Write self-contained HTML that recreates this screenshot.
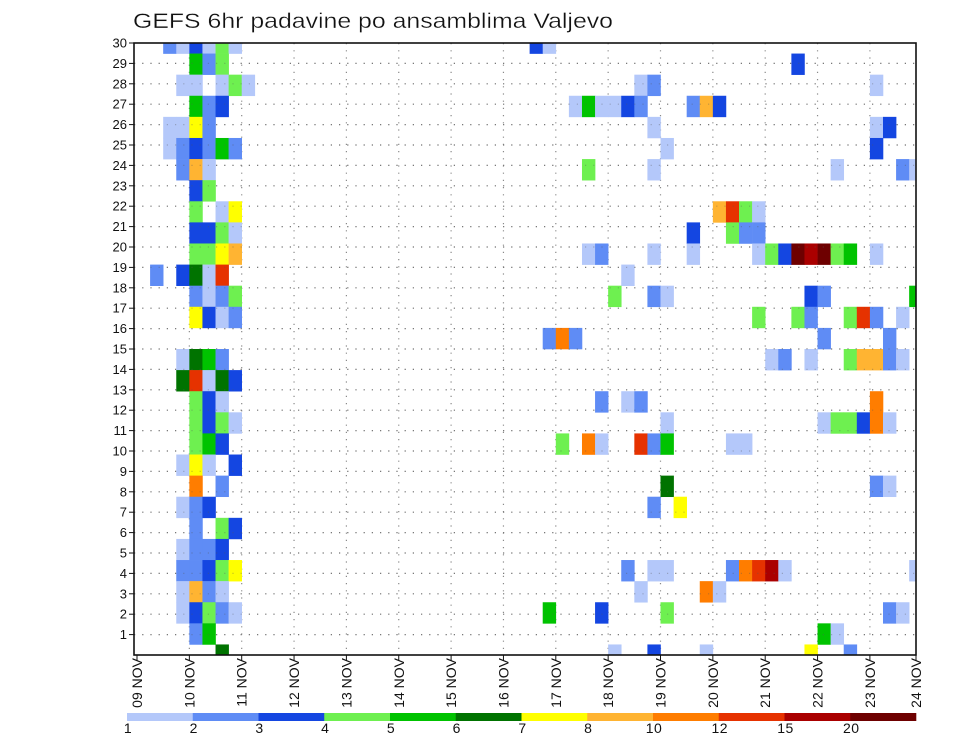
<!DOCTYPE html>
<html><head><meta charset="utf-8"><title>GEFS 6hr padavine po ansamblima Valjevo</title>
<style>
html,body{margin:0;padding:0;background:#fff;}
svg{display:block;font-family:"Liberation Sans",sans-serif;}
</style></head>
<body>
<svg id="chart" width="960" height="742" viewBox="0 0 960 742" xmlns="http://www.w3.org/2000/svg">
<text x="133" y="28" font-size="21" textLength="480" lengthAdjust="spacingAndGlyphs" fill="#111" stroke="#fff" stroke-width="0.3">GEFS 6hr padavine po ansamblima Valjevo</text>
<defs><clipPath id="plotclip"><rect x="134" y="43" width="782" height="612"/></clipPath></defs>
<g id="grid"></g>
<g id="cells" clip-path="url(#plotclip)"></g>
<rect x="134" y="43" width="782" height="612" fill="none" stroke="#111" stroke-width="1.6"/>
<g id="yaxis"></g>
<g id="xaxis"></g>
<g id="legend"></g>
</svg>
<script>
// ---- data ----
const dayLabels = ["09 NOV","10 NOV","11 NOV","12 NOV","13 NOV","14 NOV","15 NOV","16 NOV","17 NOV","18 NOV","19 NOV","20 NOV","21 NOV","22 NOV","23 NOV","24 NOV"];
const yTicks = [1,2,3,4,5,6,7,8,9,10,11,12,13,14,15,16,17,18,19,20,21,22,23,24,25,26,27,28,29,30];
const levels = [1,2,3,4,5,6,7,8,10,12,15,20];
const levelLabels = ["1","2","3","4","5","6","7","8","10","12","15","20"];
const levelColors = ["#b4c8fa","#5f8cf5","#1446e1","#6ef050","#00c300","#007300","#ffff00","#ffb432","#ff7d00","#e63200","#aa0000","#6e0000"];
// cells: 6-hour step index (from 09 NOV 00z), ensemble member, precip (mm)
const cellStep = [
2,3,4,5,6,7,30,31,
4,5,6,50,
3,4,6,7,8,38,39,56,
4,5,6,33,34,35,36,37,38,42,43,44,
2,3,4,5,39,56,57,
2,3,4,5,6,7,40,56,
3,4,5,34,39,53,58,59,
4,5,
4,6,7,44,45,46,47,
4,5,6,7,42,45,46,47,
4,5,6,7,34,35,39,42,47,48,49,50,51,52,53,54,56,
1,3,4,5,6,37,
4,5,6,7,36,39,40,51,52,59,
4,5,6,7,47,50,51,54,55,56,58,
31,32,33,52,57,
3,4,5,6,48,49,51,54,55,56,57,58,
3,4,5,6,7,
4,5,6,35,37,38,56,
4,5,6,7,40,52,53,54,55,56,57,
4,5,6,32,34,35,38,39,40,45,46,
3,4,5,7,
4,6,40,56,57,
3,4,5,39,41,
4,6,7,
3,4,5,6,
3,4,5,6,7,37,39,40,45,46,47,48,49,59,
3,4,5,6,38,43,44,
3,4,5,6,7,31,35,40,57,58,
4,5,52,53,
6,36,39,43,51,54];
const cellMember = [
29,29,29,29,29,29,29,29,
28,28,28,28,
27,27,27,27,27,27,27,27,
26,26,26,26,26,26,26,26,26,26,26,26,
25,25,25,25,25,25,25,
24,24,24,24,24,24,24,24,
23,23,23,23,23,23,23,23,
22,22,
21,21,21,21,21,21,21,
20,20,20,20,20,20,20,20,
19,19,19,19,19,19,19,19,19,19,19,19,19,19,19,19,19,
18,18,18,18,18,18,
17,17,17,17,17,17,17,17,17,17,
16,16,16,16,16,16,16,16,16,16,16,
15,15,15,15,15,
14,14,14,14,14,14,14,14,14,14,14,14,
13,13,13,13,13,
12,12,12,12,12,12,12,
11,11,11,11,11,11,11,11,11,11,11,
10,10,10,10,10,10,10,10,10,10,10,
9,9,9,9,
8,8,8,8,8,
7,7,7,7,7,
6,6,6,
5,5,5,5,
4,4,4,4,4,4,4,4,4,4,4,4,4,4,
3,3,3,3,3,3,3,
2,2,2,2,2,2,2,2,2,2,
1,1,1,1,
0,0,0,0,0,0];
const cellValue = [
2.5,1.5,3.5,1.5,4.5,1.5,3.5,1.5,
5.5,2.5,4.5,3.5,
1.5,1.5,1.5,4.5,1.5,1.5,2.5,1.5,
5.5,2.5,3.5,1.5,5.5,1.5,1.5,3.5,2.5,2.5,9,3.5,
1.5,1.5,7.5,2.5,1.5,1.5,3.5,
1.5,2.5,3.5,2.5,5.5,2.5,1.5,3.5,
2.5,9,1.5,4.5,1.5,1.5,2.5,1.5,
3.5,4.5,
4.5,1.5,7.5,9,13.5,4.5,1.5,
3.5,3.5,4.5,1.5,3.5,4.5,2.5,2.5,
4.5,4.5,7.5,9,1.5,2.5,1.5,1.5,1.5,4.5,3.5,25,17.5,25,4.5,5.5,1.5,
2.5,3.5,6.5,1.5,13.5,1.5,
2.5,1.5,2.5,4.5,4.5,2.5,1.5,3.5,2.5,5.5,
7.5,3.5,1.5,2.5,4.5,4.5,2.5,4.5,13.5,2.5,1.5,
2.5,11,2.5,2.5,2.5,
1.5,6.5,5.5,2.5,1.5,2.5,1.5,4.5,9,9,2.5,1.5,
6.5,13.5,1.5,6.5,3.5,
4.5,3.5,1.5,2.5,1.5,2.5,11,
4.5,3.5,4.5,1.5,1.5,1.5,4.5,4.5,3.5,11,1.5,
4.5,5.5,3.5,4.5,11,1.5,13.5,2.5,5.5,1.5,1.5,
1.5,7.5,1.5,3.5,
11,2.5,6.5,2.5,1.5,
1.5,2.5,3.5,2.5,7.5,
2.5,4.5,3.5,
1.5,2.5,2.5,3.5,
2.5,2.5,3.5,4.5,7.5,2.5,1.5,1.5,2.5,11,13.5,17.5,1.5,1.5,
1.5,9,2.5,1.5,1.5,11,1.5,
1.5,3.5,4.5,2.5,1.5,5.5,3.5,4.5,2.5,1.5,
2.5,5.5,5.5,1.5,
6.5,1.5,3.5,1.5,7.5,2.5];

// ---- scales ----
const NS = "http://www.w3.org/2000/svg";
const X0 = 137, DAY = 52.35, STEP = DAY/4;
const PL = 134, PR = 916, PT = 43, PB = 655;
function xDay(d){ return Math.min(X0 + d*DAY, PR); }
function xStep(k){ return X0 + k*STEP; }
function yTick(v){ return PB - v*(PB-PT)/30; }
const MEMBER_H = (PB-PT)/29;
function yMember(m){ return PB - m*MEMBER_H; }
function colorFor(v){ let c = levelColors[0]; for(let i=0;i<levels.length;i++){ if(v>=levels[i]) c = levelColors[i]; } return c; }
function mk(tag, attrs, parent){ const e=document.createElementNS(NS,tag); for(const a in attrs) e.setAttribute(a, attrs[a]); parent.appendChild(e); return e; }

// grid
const grid = document.getElementById('grid');
for (const v of yTicks){ if(v===30) continue;
  const l = mk('line',{x1:PL,x2:PR,y1:yTick(v),y2:yTick(v),stroke:'#8a8a8a','stroke-width':1.2,'stroke-dasharray':'1.2 7'},grid);
  
  
}
for (let d=1; d<dayLabels.length-1; d++){
  const l = mk('line',{x1:xDay(d),x2:xDay(d),y1:PT,y2:PB,stroke:'#8a8a8a','stroke-width':1.2,'stroke-dasharray':'1.2 6'},grid);
  
  
}

// cells
const cells = document.getElementById('cells');
for (let i=0;i<cellStep.length;i++){
  const yc = yMember(cellMember[i]);
  const r = mk('rect',{x:xStep(cellStep[i]).toFixed(2), y:(yc-MEMBER_H/2).toFixed(2), width:(STEP+0.3).toFixed(2), height:(MEMBER_H+0.3).toFixed(2), fill:colorFor(cellValue[i])},cells);
  
  
}
for (const v of yTicks){ if(v===30) continue;
  const l = mk('line',{x1:PL,x2:PR,y1:yTick(v),y2:yTick(v),stroke:'#555','stroke-opacity':0.35,'stroke-width':1.2,'stroke-dasharray':'1.2 7'},cells);
  
  
}

// y axis
const ya = document.getElementById('yaxis');
for (const v of yTicks){
  const t = mk('line',{x1:PL-5,x2:PL,y1:yTick(v),y2:yTick(v),stroke:'#111','stroke-width':1},ya);
  
  
  const tx = mk('text',{x:PL-7,y:yTick(v)+4.5,'text-anchor':'end','font-size':13,fill:'#111'},ya);
  tx.textContent = v;
  
  
}

// x axis
const xa = document.getElementById('xaxis');
for (let d=0; d<dayLabels.length; d++){
  const x = xDay(d);
  const t = mk('line',{x1:x,x2:x,y1:PB,y2:PB+6,stroke:'#111','stroke-width':1},xa);
  
  
  const tx = mk('text',{x:0,y:0,'text-anchor':'end','font-size':14,fill:'#111',transform:`translate(${(x+5).toFixed(1)},${PB+3}) rotate(-90)`},xa);
  tx.textContent = dayLabels[d];
  
  
}

// legend
const lg = document.getElementById('legend');
const LX = 127, LW = (916-127)/levels.length;
for (let i=0;i<levels.length;i++){
  const r = mk('rect',{x:(LX+i*LW).toFixed(2),y:713,width:(LW+0.3).toFixed(2),height:8,fill:levelColors[i]},lg);
  
  
  const tx = mk('text',{x:(LX+i*LW+1).toFixed(2),y:733,'text-anchor':'middle','font-size':14,'letter-spacing':'0.5',fill:'#111'},lg);
  tx.textContent = levelLabels[i];
  
  
}
</script>
</body></html>
